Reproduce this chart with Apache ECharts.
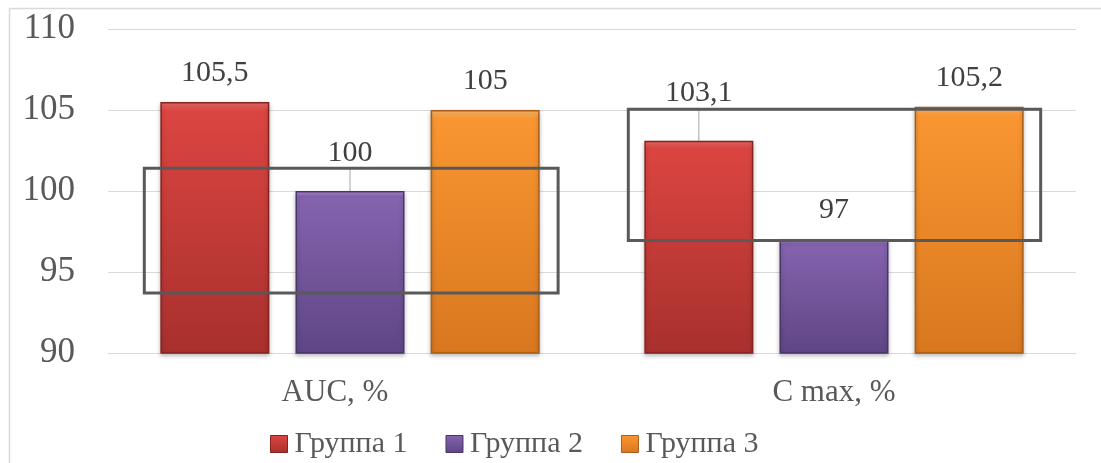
<!DOCTYPE html>
<html>
<head>
<meta charset="utf-8">
<script src="https://cdn.jsdelivr.net/npm/echarts@6/dist/echarts.min.js"></script>
<style>
  html, body { margin: 0; padding: 0; background: #fff; }
  #chart { width: 1101px; height: 463px; }
</style>
</head>
<body>
<div id="chart"></div>
<script>
// Pharmacokinetic parameters, % of reference
const categories = ['AUC, %', 'C max, %'];
const groupNames = ['Группа 1', 'Группа 2', 'Группа 3'];
const group1 = [105.5, 103.1];
const group2 = [100, 97];
const group3 = [105, 105.2];
const yTicks = { min: 90, max: 110, step: 5 };

// Equivalence ranges outlined around each category (value units)
const rangeLow = [93.7, 96.95];
const rangeHigh = [101.4, 105.05];

// Extra lift for labels that sit on a leader line
const labelLift = [[0, 19], [9, 0], [0, 0]];

const FONT = 'Liberation Serif';

const palettes = [
  { hi: '#f0706b', top: '#db4541', bottom: '#a8302d', edge: '#85231f' },
  { hi: '#b48fe0', top: '#8563ae', bottom: '#5f4585', edge: '#4a3568' },
  { hi: '#ffc070', top: '#f99631', bottom: '#d8771f', edge: '#a85d16' }
];

function barColor(p) {
  return new echarts.graphic.LinearGradient(0, 0, 0, 1, [
    { offset: 0, color: p.hi },
    { offset: 0.035, color: p.top },
    { offset: 1, color: p.bottom }
  ]);
}

const seriesValues = [group1, group2, group3];

const series = seriesValues.map((vals, si) => ({
  name: groupNames[si],
  type: 'bar',
  barWidth: 109,
  barGap: '24%',
  itemStyle: {
    color: barColor(palettes[si]),
    borderColor: palettes[si].edge,
    borderWidth: 1.5,
    shadowColor: 'rgba(0,0,0,0.25)',
    shadowBlur: 4,
    shadowOffsetY: 2
  },
  label: {
    show: true,
    position: 'top',
    distance: 14,
    fontFamily: FONT,
    fontSize: 30,
    color: '#404040',
    formatter: p => String(p.value).replace('.', ',')
  },
  labelLayout: p => (labelLift[si][p.dataIndex] ? { dy: -labelLift[si][p.dataIndex] } : {}),
  data: vals.map((v, di) => labelLift[si][di]
    ? { value: v, labelLine: { show: true, lineStyle: { color: '#a6a6a6', width: 1 } } }
    : { value: v })
}));

const chart = echarts.init(document.getElementById('chart'), null, { renderer: 'canvas' });

chart.setOption({
  animation: false,
  backgroundColor: '#ffffff',
  textStyle: { fontFamily: FONT },
  grid: { left: 108, right: 25, top: 29, bottom: 110, containLabel: false },
  legend: {
    data: groupNames.map((n, i) => ({
      name: n,
      itemStyle: { color: barColor(palettes[i]), borderColor: palettes[i].edge, borderWidth: 1 }
    })),
    left: 265,
    top: 424,
    icon: 'rect',
    itemWidth: 17,
    itemHeight: 17,
    itemGap: 38,
    textStyle: { fontFamily: FONT, fontSize: 30, color: '#595959', padding: [0, 0, 0, 2] }
  },
  xAxis: {
    type: 'category',
    data: [
      { value: categories[0], textStyle: { padding: [0, 30, 0, 0] } },
      { value: categories[1] }
    ],
    axisLine: { show: true, lineStyle: { color: '#d9d9d9', width: 1 } },
    axisTick: { show: false },
    axisLabel: { fontFamily: FONT, fontSize: 31, color: '#595959', margin: 24 }
  },
  yAxis: {
    type: 'value',
    min: yTicks.min,
    max: yTicks.max,
    interval: yTicks.step,
    axisLine: { show: false },
    axisTick: { show: false },
    splitLine: { lineStyle: { color: '#d9d9d9', width: 1 } },
    axisLabel: { fontFamily: FONT, fontSize: 35, color: '#595959', margin: 33 }
  },
  series
});

// Frame lines and the range boxes, placed through the grid's own coordinate system
function drawOverlays() {
  const c0 = chart.convertToPixel({ gridIndex: 0 }, [0, yTicks.min]);
  const c1 = chart.convertToPixel({ gridIndex: 0 }, [1, yTicks.min]);
  const band = c1[0] - c0[0];
  const extents = [[-0.425, 0.43], [-0.425, 0.427]];
  const boxes = categories.map((cat, i) => {
    const top = chart.convertToPixel({ gridIndex: 0 }, [i, rangeHigh[i]]);
    const bot = chart.convertToPixel({ gridIndex: 0 }, [i, rangeLow[i]]);
    const x0 = top[0] + extents[i][0] * band;
    const x1 = top[0] + extents[i][1] * band;
    return {
      type: 'rect',
      z: 100,
      shape: { x: x0, y: top[1], width: x1 - x0, height: bot[1] - top[1] },
      style: { fill: null, stroke: '#595959', lineWidth: 3 }
    };
  });
  chart.setOption({
    graphic: [
      { type: 'line', shape: { x1: 9, y1: 8.5, x2: 1101, y2: 8.5 }, style: { stroke: '#d9d9d9', lineWidth: 1.5 } },
      { type: 'line', shape: { x1: 9.5, y1: 8, x2: 9.5, y2: 463 }, style: { stroke: '#d9d9d9', lineWidth: 1.5 } },
      ...boxes
    ]
  });
}
drawOverlays();
</script>
</body>
</html>
